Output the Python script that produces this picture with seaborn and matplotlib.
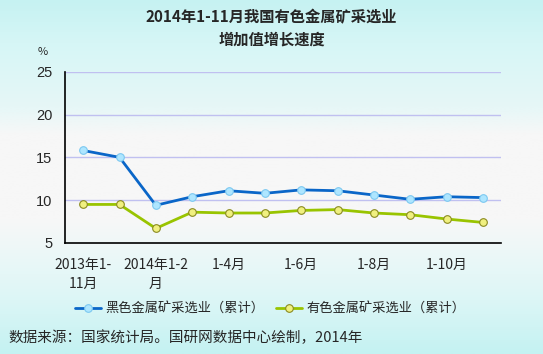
import numpy as np
import pandas as pd
import matplotlib.pyplot as plt
import seaborn as sns
from matplotlib.colors import LinearSegmentedColormap

categories = ["2013年1-11月", "2013年1-12月", "2014年1-2月", "1-3月", "1-4月", "1-5月",
              "1-6月", "1-7月", "1-8月", "1-9月", "1-10月", "1-11月"]
tick_labels = ["2013年1-\n11月", "", "2014年1-2\n月", "", "1-4月", "", "1-6月", "",
               "1-8月", "", "1-10月", ""]
ferrous = [15.8, 15.0, 9.4, 10.4, 11.1, 10.8, 11.2, 11.1, 10.6, 10.1, 10.4, 10.3]
nonferrous = [9.5, 9.5, 6.7, 8.6, 8.5, 8.5, 8.8, 8.9, 8.5, 8.3, 7.8, 7.4]
series_names = ["黑色金属矿采选业（累计）", "有色金属矿采选业（累计）"]


def build_frame():
    rows = []
    for name, vals in zip(series_names, [ferrous, nonferrous]):
        for i, v in enumerate(vals):
            rows.append({"idx": i, "value": v, "series": name})
    return pd.DataFrame(rows)


def plot_chart(df):
    sns.set_style("white")
    plt.rcParams["font.family"] = ["Noto Sans CJK SC", "DejaVu Sans"]

    fig = plt.figure(figsize=(5.43, 3.54), dpi=100)

    # background gradient over whole figure
    bg = fig.add_axes([0, 0, 1, 1], zorder=-10)
    cmap = LinearSegmentedColormap.from_list(
        "bg",
        [(0.0, "#c6f2f2"), (0.12, "#d6f6f6"), (0.3, "#e6f7f7"), (0.38, "#f7f7f7"),
         (0.62, "#f7f7f7"), (0.7, "#eef8f8"), (0.85, "#dcf6f6"), (1.0, "#c4f2f2")])
    bg.imshow(np.linspace(0, 1, 256).reshape(-1, 1), aspect="auto", cmap=cmap,
              extent=[0, 1, 0, 1])
    bg.axis("off")

    ax = fig.add_axes([0.1197, 0.3136, 0.8030, 0.4839])
    ax.patch.set_alpha(0)

    sns.lineplot(data=df[df["series"] == series_names[0]], x="idx", y="value",
                 color="#0a66c8", linewidth=2, marker="o",
                 markersize=5.5, markerfacecolor="#aee6ff", markeredgecolor="#7cc8f0",
                 markeredgewidth=0.8, label=series_names[0], ax=ax)
    sns.lineplot(data=df[df["series"] == series_names[1]], x="idx", y="value",
                 color="#99c400", linewidth=2, marker="o",
                 markersize=5.5, markerfacecolor="#f0f080", markeredgecolor="#8a8a20",
                 markeredgewidth=0.8, label=series_names[1], ax=ax)

    ax.set_xlim(-0.5, len(categories) - 0.5)
    ax.set_ylim(5, 25)
    ax.set_yticks([5, 10, 15, 20, 25])
    ax.set_yticklabels(["5", "10", "15", "20", "25"], fontsize=10.5,
                       family=["Liberation Sans", "DejaVu Sans"])
    for y in [10, 15, 20, 25]:
        ax.axhline(y, color="#c0c0f0", linewidth=1, zorder=0)

    ax.set_xticks(np.arange(len(categories)))
    ax.set_xticklabels(tick_labels, fontsize=10, linespacing=1.45)
    ax.set_xticks(np.arange(-0.5, len(categories)), minor=True)
    ax.tick_params(axis="x", which="major", length=0, pad=11)
    ax.tick_params(axis="x", which="minor", direction="in", length=4, width=1)
    ax.tick_params(axis="y", direction="in", length=4, width=1, pad=9)

    for s in ["top", "right"]:
        ax.spines[s].set_visible(False)
    for s in ["left", "bottom"]:
        ax.spines[s].set_color("black")
        ax.spines[s].set_linewidth(1.2)

    ax.set_xlabel("")
    ax.set_ylabel("")
    ax.legend(loc="upper left", bbox_to_anchor=(-0.005, -0.28), ncol=2, frameon=False,
              fontsize=9.5, handlelength=2.0, columnspacing=0.9, handletextpad=0.3)

    fig.text(0.5, 0.952, "2014年1-11月我国有色金属矿采选业", ha="center", va="center",
             fontsize=11, fontweight="bold")
    fig.text(0.5, 0.889, "增加值增长速度", ha="center", va="center",
             fontsize=11, fontweight="bold")
    fig.text(0.079, 0.853, "%", ha="center", va="center", fontsize=8)
    fig.text(0.016, 0.045, "数据来源：国家统计局。国研网数据中心绘制，2014年",
             ha="left", va="center", fontsize=10.5)

    fig.savefig("out.png", dpi=100)


if __name__ == "__main__":
    plot_chart(build_frame())
